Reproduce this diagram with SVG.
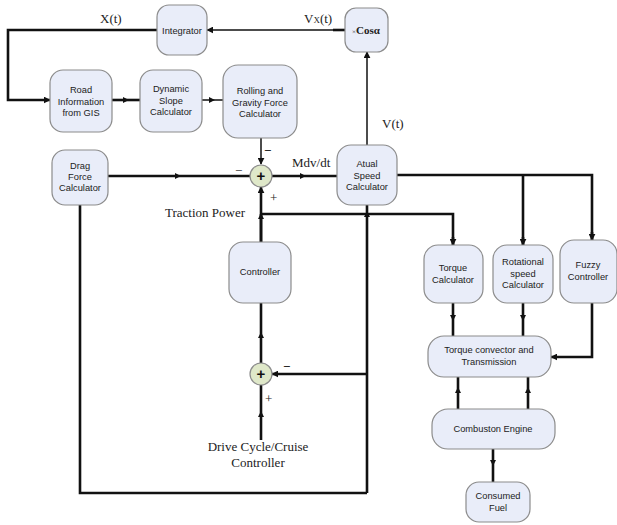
<svg xmlns="http://www.w3.org/2000/svg" width="617" height="525" viewBox="0 0 617 525">
<defs>
<marker id="ah" viewBox="0 0 10 10" refX="9" refY="5" markerWidth="7" markerHeight="7" markerUnits="userSpaceOnUse" orient="auto"><path d="M0,0 L10,5 L0,10 Z" fill="#111"/></marker>
<marker id="am" viewBox="0 0 10 10" refX="5" refY="5" markerWidth="6" markerHeight="6" markerUnits="userSpaceOnUse" orient="auto"><path d="M0,0 L10,5 L0,10 Z" fill="#111"/></marker>
</defs>
<style>
.n{fill:#e9edf9;stroke:#8c8c8c;stroke-width:1.2}
.s{fill:#dfe8c9;stroke:#8c8c8c;stroke-width:1.2}
.t{font-family:"Liberation Sans",Arial,sans-serif;font-size:9.3px;fill:#222;text-anchor:middle}
.l{font-family:"Liberation Serif","Times New Roman",serif;font-size:13px;fill:#222}
.c{fill:none;stroke:#111;stroke-width:2.6}
.c1{fill:none;stroke:#111;stroke-width:1.5}
.mid{marker-mid:url(#am)}
.end{marker-end:url(#ah)}
.plus{font-family:"Liberation Sans",Arial,sans-serif;font-size:15px;font-weight:bold;fill:#111;text-anchor:middle}
</style>
<rect width="617" height="525" fill="#fff"/>
<g id="connectors">
<path class="c end" d="M157,30 H8 V100 H50"/>
<path class="c1 end" d="M345,30 H207"/>
<path class="c" d="M333,30 H345"/>
<path class="c mid" d="M112,100 L126,100 L140,100"/>
<path class="c1 mid" d="M202,100 L212,100 L223,100"/>
<path class="c1 end" d="M261,138 V164"/>
<path class="c mid" d="M108,176 L178,176 L250,176"/>
<path class="c mid" d="M272,176 L303,176 L337,176"/>
<path class="c1 end" d="M367,145 V52"/>
<path class="c" d="M397,175 H592 V240"/>
<path class="c" d="M523,175 V245"/>
<path class="c end" d="M592,232 V240"/>
<path class="c end" d="M523,237 V245"/>
<path class="c end" d="M261,242 V214 L261,187"/>
<path class="c mid" d="M261,242 L261,216 L261,214"/>
<path class="c" d="M261,214 H453 V245"/>
<path class="c end" d="M453,237 V245"/>
<path class="c mid" d="M367,493 L367,214 L367,205"/>
<path class="c end" d="M367,374 H272"/>
<path class="c" d="M80,205 V493 H367"/>
<path class="c mid" d="M261,363 L261,335 L261,303"/>
<path class="c mid" d="M261,440 L261,414 L261,385"/>
<path class="c mid" d="M453,303 L453,318 L453,336"/>
<path class="c mid" d="M523,303 L523,318 L523,336"/>
<path class="c end" d="M592,303 V357 H551"/>
<path class="c mid" d="M458,409 L458,390 L458,377"/>
<path class="c mid" d="M528,409 L528,390 L528,377"/>
<path class="c mid" d="M493,449 L493,463 L493,482"/>
</g>
<g id="integrator"><rect class="n" x="157" y="5" width="50" height="50" rx="12"/><text class="t" x="182" y="34">Integrator</text></g>
<g id="xcos"><rect class="n" x="345" y="8" width="43" height="44" rx="11"/><text x="366" y="34" style="font-family:'Liberation Serif',serif;font-size:11px;font-weight:bold;fill:#222;text-anchor:middle"><tspan style="font-size:7px;font-weight:normal">×</tspan>Cosα</text></g>
<g id="road"><rect class="n" x="50" y="70" width="62" height="62" rx="13"/><text class="t" x="81" y="93">Road</text><text class="t" x="81" y="104.5">Information</text><text class="t" x="81" y="116">from GIS</text></g>
<g id="slope"><rect class="n" x="140" y="70" width="62" height="62" rx="13"/><text class="t" x="171" y="92">Dynamic</text><text class="t" x="171" y="103.5">Slope</text><text class="t" x="171" y="115">Calculator</text></g>
<g id="rolling"><rect class="n" x="223" y="65" width="74" height="73" rx="15"/><text class="t" x="260" y="94">Rolling and</text><text class="t" x="260" y="105.5">Gravity Force</text><text class="t" x="260" y="117">Calculator</text></g>
<g id="drag"><rect class="n" x="52" y="150" width="56" height="55" rx="13"/><text class="t" x="80" y="169">Drag</text><text class="t" x="80" y="180">Force</text><text class="t" x="80" y="191">Calculator</text></g>
<g id="sum1"><circle class="s" cx="261" cy="176" r="11"/><text class="plus" x="261" y="181">+</text></g>
<g id="actual"><rect class="n" x="337" y="145" width="60" height="60" rx="14"/><text class="t" x="367" y="167">Atual</text><text class="t" x="367" y="178.5">Speed</text><text class="t" x="367" y="190">Calculator</text></g>
<g id="controller"><rect class="n" x="229" y="242" width="62" height="61" rx="14"/><text class="t" x="260" y="275">Controller</text></g>
<g id="torque"><rect class="n" x="424" y="245" width="59" height="58" rx="14"/><text class="t" x="453" y="271">Torque</text><text class="t" x="453" y="282.5">Calculator</text></g>
<g id="rotational"><rect class="n" x="493" y="245" width="60" height="58" rx="14"/><text class="t" x="523" y="265">Rotational</text><text class="t" x="523" y="276.5">speed</text><text class="t" x="523" y="288">Calculator</text></g>
<g id="fuzzy"><rect class="n" x="560" y="240" width="57" height="63" rx="14"/><text class="t" x="588" y="268">Fuzzy</text><text class="t" x="588" y="279.5">Controller</text></g>
<g id="sum2"><circle class="s" cx="261" cy="374" r="11"/><text class="plus" x="261" y="379">+</text></g>
<g id="convector"><rect class="n" x="428" y="336" width="123" height="41" rx="16"/><text class="t" x="489" y="353">Torque convector and</text><text class="t" x="489" y="364.5">Transmission</text></g>
<g id="engine"><rect class="n" x="432" y="409" width="123" height="40" rx="16"/><text class="t" x="493" y="432">Combuston Engine</text></g>
<g id="fuel"><rect class="n" x="466" y="482" width="64" height="40" rx="13"/><text class="t" x="498" y="499">Consumed</text><text class="t" x="498" y="511">Fuel</text></g>
<g id="labels">
<text class="l" x="100" y="23">X(t)</text>
<text class="l" x="304" y="23">V<tspan font-size="9">X</tspan>(t)</text>
<text class="l" x="382" y="128">V(t)</text>
<text class="l" x="292" y="167">Mdv/dt</text>
<text class="l" x="165" y="217" font-size="14">Traction Power</text>
<text class="l" x="264" y="155" font-size="14" font-weight="bold">−</text>
<text class="l" x="235" y="175" font-size="12">−</text>
<text class="l" x="270" y="202" font-size="11">+</text>
<text class="l" x="283" y="371" font-size="14" font-weight="bold">−</text>
<text class="l" x="265" y="403" font-size="10">+</text>
<text class="l" x="258" y="451" text-anchor="middle" font-size="14">Drive Cycle/Cruise</text>
<text class="l" x="258" y="467" text-anchor="middle" font-size="14">Controller</text>
</g>
</svg>
